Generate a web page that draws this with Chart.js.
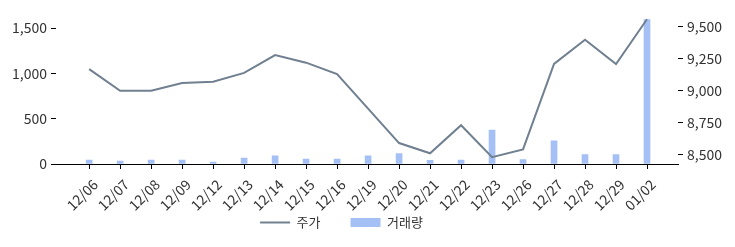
<!DOCTYPE html>
<html>
<head>
<meta charset="utf-8">
<script src="https://cdn.jsdelivr.net/npm/chart.js@4"></script>
<style>
  html, body { margin: 0; padding: 0; background: #fff; }
  #wrap { width: 735px; height: 247px; }
</style>
</head>
<body>
<div id="wrap"><canvas id="myChart"></canvas></div>
<script>
// 날짜, 주가, 거래량
const dates = ['12/06', '12/07', '12/08', '12/09', '12/12', '12/13', '12/14', '12/15', '12/16', '12/19',
               '12/20', '12/21', '12/22', '12/23', '12/26', '12/27', '12/28', '12/29', '01/02'];
const prices = [9170, 9000, 9000, 9060, 9070, 9140, 9280, 9220, 9130, 8860,
                8590, 8510, 8730, 8480, 8540, 9210, 9400, 9210, 9560];
const volumes = [43, 32, 43, 43, 22, 65, 90, 54, 54, 90,
                 115, 40, 43, 375, 50, 255, 104, 104, 1593];
const volumeTicks = [0, 500, 1000, 1500];
const priceTicks = [8500, 8750, 9000, 9250, 9500];

const font = { family: '"Noto Sans CJK KR", "Noto Sans", sans-serif', size: 13 };
const tickFont = { family: '"Noto Sans CJK KR", "Noto Sans", sans-serif', size: 14 };
const textColor = '#333';

// 축 크기를 줄여도 눈금 글자가 잘리지 않게 함
const unclipLabels = {
    id: 'unclipLabels',
    afterLayout(chart) {
        chart.scales.x.bottom = chart.height;
        chart.scales.y1.right = chart.width;
    }
};

const ctx = document.getElementById('myChart').getContext('2d');
const myChart = new Chart(ctx, {
    data: {
        datasets: [{
            type: 'line',
            label: '주가',
            data: prices.map((v, i) => ({ x: i, y: v })),
            yAxisID: 'y1',
            borderColor: '#708090',
            backgroundColor: '#708090',
            borderWidth: 2,
            pointRadius: 0,
            pointStyle: 'line',
            tension: 0,
            order: 0
        }, {
            type: 'bar',
            label: '거래량',
            data: volumes.map((v, i) => ({ x: i, y: v })),
            yAxisID: 'y',
            backgroundColor: '#a4c0f5',
            borderWidth: 0,
            barThickness: 6,
            pointStyle: 'rect',
            order: 1
        }]
    },
    plugins: [unclipLabels],
    options: {
        responsive: true,
        maintainAspectRatio: false,
        animation: false,
        // 오른쪽 여백은 범례를 왼쪽으로 옮기기 위한 것
        layout: { padding: { top: 9, bottom: 8, right: 52 } },
        plugins: {
            tooltip: { enabled: false },
            legend: {
                position: 'bottom',
                labels: {
                    font: font,
                    color: textColor,
                    usePointStyle: true,
                    pointStyleWidth: 30,
                    boxHeight: 9,
                    padding: 30
                }
            }
        },
        scales: {
            x: {
                type: 'linear',
                offset: false,
                min: -1.07,
                max: 19.0,
                afterBuildTicks: scale => {
                    scale.ticks = dates.map((d, i) => ({ value: i }));
                },
                afterFit: scale => { scale.height = 22; },
                ticks: {
                    callback: v => dates[v],
                    font: tickFont,
                    color: textColor,
                    minRotation: 45,
                    maxRotation: 45,
                    padding: 7,
                    labelOffset: 6,
                    autoSkip: false
                },
                grid: { drawOnChartArea: false, offset: false, tickLength: 5, color: '#000' },
                border: { display: true, color: '#000', width: 1 }
            },
            y: {
                position: 'left',
                min: 0,
                max: 1673,
                afterBuildTicks: scale => {
                    scale.ticks = volumeTicks.map(v => ({ value: v }));
                },
                afterFit: scale => { scale.width = 56; },
                ticks: {
                    font: tickFont,
                    color: textColor,
                    padding: 4,
                    callback: v => v.toLocaleString('en-US')
                },
                grid: { drawOnChartArea: false, tickLength: 5, color: '#000' },
                border: { display: false }
            },
            y1: {
                position: 'right',
                min: 8426,
                max: 9614,
                afterBuildTicks: scale => {
                    scale.ticks = priceTicks.map(v => ({ value: v }));
                },
                afterFit: scale => { scale.width = 5; },
                ticks: {
                    font: tickFont,
                    color: textColor,
                    padding: 4,
                    callback: v => v.toLocaleString('en-US')
                },
                grid: { drawOnChartArea: false, tickLength: 5, color: '#000' },
                border: { display: false }
            }
        }
    }
});
</script>
</body>
</html>
